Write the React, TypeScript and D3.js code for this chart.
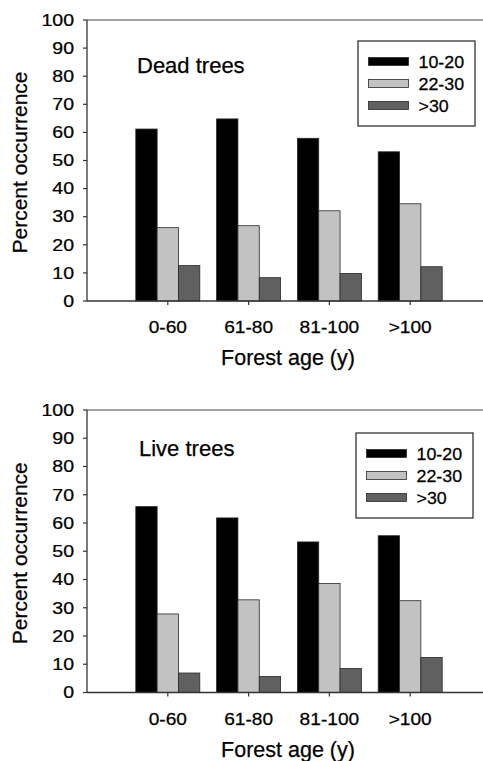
import React from 'react';
import { scaleLinear, scaleBand } from 'd3';

const categories = ['0-60', '61-80', '81-100', '>100'];
const series = ['10-20', '22-30', '>30'];
const seriesColors = ['#000000', '#c2c2c2', '#606060'];
const yTicks = [0, 10, 20, 30, 40, 50, 60, 70, 80, 90, 100];

// dead trees, % occurrence per diameter class
const deadSmall = [61.2, 64.8, 57.9, 53.1];
const deadMid = [26.1, 26.8, 32.1, 34.6];
const deadLarge = [12.6, 8.3, 9.8, 12.2];

// live trees
const liveSmall = [65.8, 61.8, 53.3, 55.5];
const liveMid = [27.8, 32.8, 38.6, 32.5];
const liveLarge = [6.9, 5.7, 8.5, 12.4];

const FONT = '"Liberation Sans", Arial, Helvetica, sans-serif';

// text stretched horizontally like the scanned figure
function Label({ x, y, sx = 1, anchor = 'start', size = 16, dy = '0', children }: any) {
    return (
        <text
            transform={`translate(${x},${y}) scale(${sx},1)`}
            textAnchor={anchor}
            fontSize={size}
            dy={dy}
            fontFamily={FONT}
            fill="#000"
            stroke="#000"
            strokeWidth={0.25}
        >
            {children}
        </text>
    );
}

function Panel({ values, title, top, base, titleX, titleY, legendX, legendY }: any) {
    const left = 87;
    const right = 483;
    const x = scaleLinear().domain([0, 5]).range([left, 491]);
    const inner = scaleBand().domain(series).range([-32, 32]).padding(0);
    const y = scaleLinear().domain([0, 100]).range([base, top]);
    const catLabelY = base + 32;
    const xTitleY = base + 64;

    return (
        <g>
            {/* bars */}
            {categories.map((c, i) => (
                <g key={c}>
                    {series.map((s, j) => (
                        <rect
                            key={s}
                            x={x(i + 1) + (inner(s) as number)}
                            y={y(values[j][i])}
                            width={inner.bandwidth()}
                            height={base - y(values[j][i])}
                            fill={seriesColors[j]}
                            stroke="#2a2a2a"
                            strokeWidth={0.8}
                        />
                    ))}
                </g>
            ))}

            {/* frame: left axis, top line, baseline */}
            <line x1={left} x2={left} y1={top} y2={base} stroke="#333" strokeWidth={1.3} />
            <line x1={left} x2={right} y1={top} y2={top} stroke="#444" strokeWidth={1.2} />
            <line x1={left} x2={right} y1={base} y2={base} stroke="#333" strokeWidth={1.3} />

            {/* y ticks */}
            {yTicks.map(t => (
                <g key={t}>
                    <line x1={left - 4} x2={left} y1={y(t)} y2={y(t)} stroke="#333" strokeWidth={1.2} />
                    <Label x={74} y={y(t)} dy="0.36em" anchor="end" size={16} sx={1.22}>
                        {t}
                    </Label>
                </g>
            ))}

            {/* x ticks + category labels */}
            {categories.map((c, i) => (
                <g key={c}>
                    <line x1={x(i + 1)} x2={x(i + 1)} y1={base} y2={base + 4} stroke="#333" strokeWidth={1.2} />
                    <Label x={x(i + 1)} y={catLabelY} anchor="middle" size={16.5} sx={1.16}>
                        {c}
                    </Label>
                </g>
            ))}

            <Label x={288} y={xTitleY} anchor="middle" size={21.5}>
                Forest age (y)
            </Label>
            <text
                transform={`translate(27,${(top + base) / 2 + 2}) rotate(-90)`}
                textAnchor="middle"
                fontSize={21}
                fontFamily={FONT}
                fill="#000"
                stroke="#000"
                strokeWidth={0.25}
            >
                Percent occurrence
            </text>

            <Label x={titleX} y={titleY} size={22}>
                {title}
            </Label>

            {/* legend */}
            <rect x={legendX} y={legendY} width={117} height={85} fill="#fff" stroke="#333" strokeWidth={1.3} />
            {series.map((s, j) => (
                <g key={s}>
                    <rect
                        x={legendX + 10.5}
                        y={legendY + 16.5 + j * 22}
                        width={40}
                        height={8}
                        fill={seriesColors[j]}
                        stroke="#2a2a2a"
                        strokeWidth={0.8}
                    />
                    <Label x={legendX + 60.5} y={legendY + 27 + j * 22} size={16.5} sx={1.08}>
                        {s}
                    </Label>
                </g>
            ))}
        </g>
    );
}

export default function App() {
    return (
        <svg
            width={483}
            height={761}
            style={{ position: 'absolute', left: 0, top: 0, background: '#fff' }}
        >
            <Panel
                values={[deadSmall, deadMid, deadLarge]}
                title="Dead trees"
                top={20}
                base={301}
                titleX={137}
                titleY={73}
                legendX={358}
                legendY={41}
            />
            <Panel
                values={[liveSmall, liveMid, liveLarge]}
                title="Live trees"
                top={410}
                base={692.5}
                titleX={139}
                titleY={456}
                legendX={356}
                legendY={433}
            />
        </svg>
    );
}
